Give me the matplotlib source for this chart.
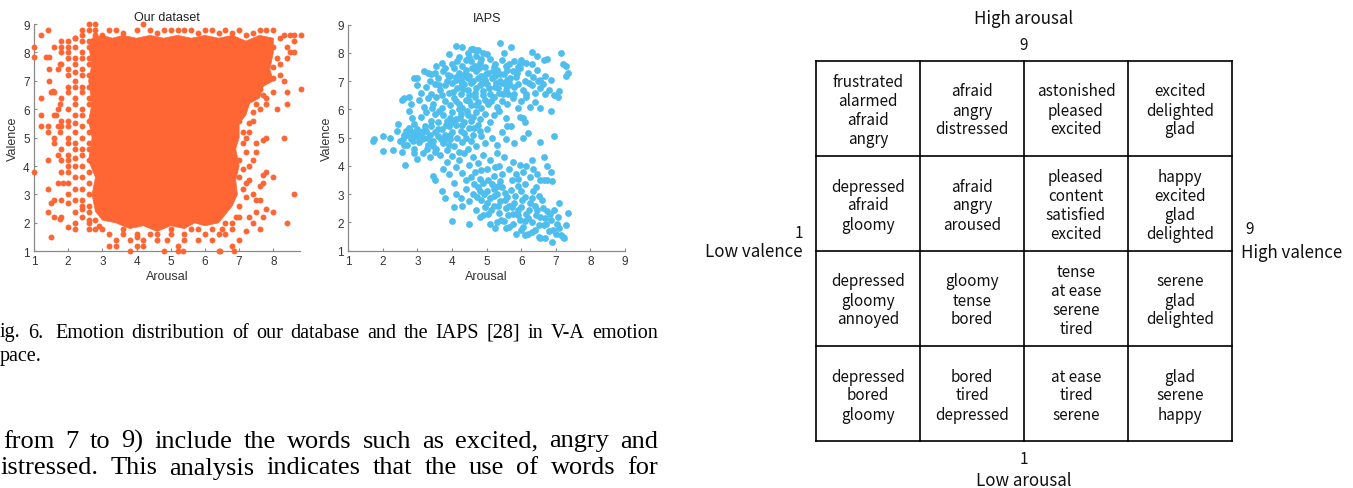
import numpy as np
import matplotlib
matplotlib.use("Agg")
import matplotlib.pyplot as plt
from matplotlib.patches import Polygon

# ---------------- data ----------------
# "Our dataset": solid dense core outline (arousal, valence)
core_arousal = [2.7, 3.0, 3.3, 3.6, 4.0, 4.4, 4.8, 5.2, 5.6, 6.0, 6.4, 6.8, 7.2, 7.6, 8.0,
                8.0, 7.9, 8.0, 7.7, 7.6, 7.3, 7.2, 7.0, 7.0, 6.9, 7.0, 6.9, 6.95, 6.8, 6.6, 6.4,
                6.0, 5.7, 5.4, 5.0, 4.6, 4.2, 3.8, 3.4, 3.0, 2.8,
                2.7, 2.8, 2.6, 2.7, 2.6, 2.7, 2.6, 2.7, 2.6]
core_valence = [8.5, 8.6, 8.5, 8.6, 8.5, 8.6, 8.5, 8.6, 8.5, 8.6, 8.5, 8.6, 8.4, 8.6, 8.5,
                8.0, 7.4, 7.0, 6.8, 6.4, 6.2, 5.8, 5.5, 5.0, 4.6, 4.0, 3.5, 3.0, 2.6, 2.3, 2.0,
                1.9, 2.0, 1.8, 1.9, 1.7, 1.9, 1.8, 2.0, 2.1, 2.4,
                3.0, 3.6, 4.2, 5.0, 5.6, 6.2, 7.0, 7.6, 8.2]
# "Our dataset": scattered points around the core
ours_points = [
    (1.0, 8.2), (1.0, 7.85), (1.0, 3.8), (1.2, 8.6), (1.4, 8.8), (1.2, 6.4), (1.2, 5.8), (1.2, 5.4),
    (1.4, 5.4), (1.4, 5.2), (1.4, 4.2), (1.4, 3.2), (1.4, 2.4), (1.5, 1.5), (1.6, 2.2), (1.5, 2.7),
    (1.6, 2.8), (1.7, 3.4), (1.8, 2.2), (1.75, 2.15), (1.8, 2.8), (1.35, 7.85), (1.45, 7.85),
    (1.45, 7.4), (1.45, 7.0), (1.5, 6.6), (1.6, 6.6), (1.55, 6.65), (1.6, 5.8), (1.65, 5.8),
    (1.6, 5.0), (1.6, 4.8), (1.7, 4.4), (1.7, 5.4), (1.75, 5.2), (1.7, 6.0), (1.75, 7.6), (1.7, 7.4),
    (1.8, 8.0), (1.8, 8.4), (1.8, 8.2), (1.6, 8.2), (1.75, 6.2), (1.8, 5.6), (1.8, 4.6), (1.8, 4.2),
    (1.8, 3.8), (1.85, 3.4), (1.8, 7.6), (1.8, 6.4), (1.8, 5.4),
    (2.0, 8.4), (2.0, 8.2), (2.0, 8.0), (2.0, 7.8), (2.0, 7.4), (2.0, 7.2), (2.0, 6.6), (2.0, 6.0),
    (2.0, 5.6), (2.0, 5.4), (2.0, 4.4), (2.0, 4.2), (2.0, 4.0), (2.0, 3.8), (2.0, 3.4), (2.0, 3.0),
    (2.0, 2.7), (2.0, 1.85), (2.0, 5.0), (2.0, 6.8), (2.0, 4.8),
    (2.2, 8.5), (2.2, 8.2), (2.2, 7.8), (2.2, 7.6), (2.2, 7.0), (2.2, 6.8), (2.2, 6.4), (2.2, 6.2),
    (2.2, 5.8), (2.2, 5.2), (2.2, 4.8), (2.2, 4.6), (2.2, 4.0), (2.2, 3.6), (2.2, 3.2), (2.2, 2.8),
    (2.2, 2.4), (2.2, 2.0), (2.2, 1.8), (2.2, 5.5), (2.2, 4.3), (2.2, 7.3),
    (2.4, 8.6), (2.4, 8.4), (2.4, 8.0), (2.4, 7.8), (2.4, 7.4), (2.4, 7.2), (2.4, 6.8), (2.4, 6.6),
    (2.4, 6.0), (2.4, 5.8), (2.4, 5.4), (2.4, 5.0), (2.4, 4.6), (2.4, 4.4), (2.4, 4.0), (2.4, 3.6),
    (2.4, 3.2), (2.4, 2.8), (2.4, 2.6),
    (2.6, 8.8), (2.6, 8.4), (2.6, 8.2), (2.6, 7.8), (2.6, 7.6), (2.6, 7.2), (2.6, 6.8), (2.6, 6.4),
    (2.6, 6.2), (2.6, 5.6), (2.6, 5.2), (2.6, 4.8), (2.6, 4.6), (2.6, 4.2), (2.6, 3.8), (2.6, 3.4),
    (2.6, 3.0), (2.6, 2.6), (2.6, 2.4), (2.6, 2.0),
    (2.4, 2.2), (2.4, 2.5), (2.6, 1.8), (2.6, 2.1), (2.8, 1.8), (2.9, 1.9), (2.8, 2.1), (3.2, 1.2),
    (3.4, 1.2), (3.4, 1.4), (3.6, 1.6), (3.8, 1.0), (3.8, 1.4), (4.0, 1.2), (4.0, 1.5), (4.2, 1.2),
    (4.2, 1.4), (4.4, 1.6), (4.6, 1.4), (4.8, 1.0), (4.9, 1.4), (5.0, 1.6), (5.2, 1.2), (5.2, 1.0),
    (5.35, 1.0), (5.4, 1.4), (5.6, 1.8), (5.8, 1.4), (6.0, 1.6), (6.2, 1.4), (6.4, 1.0), (6.45, 1.0),
    (6.5, 1.8), (6.8, 1.2), (6.85, 1.0), (7.0, 1.4), (7.2, 1.7), (7.4, 2.0), (7.5, 2.4), (7.6, 1.8),
    (7.7, 2.2), (7.8, 2.5), (8.0, 2.4), (7.3, 2.2), (7.6, 2.8), (7.6, 3.3), (7.7, 3.4), (7.7, 3.7),
    (7.8, 3.8), (8.0, 3.6), (7.4, 3.0), (7.5, 2.8), (7.2, 2.9), (7.3, 3.5), (7.3, 4.0), (7.2, 4.5),
    (7.4, 4.2), (7.5, 4.5), (7.5, 4.8), (7.7, 4.9), (7.8, 5.0), (8.3, 5.0), (8.6, 3.0), (8.4, 2.0),
    (7.1, 5.2), (7.3, 5.5), (7.3, 5.2), (7.4, 5.9), (7.6, 6.0), (7.5, 6.2), (7.7, 6.5), (7.8, 6.4),
    (8.0, 6.6), (7.2, 6.2), (7.2, 6.5), (8.1, 6.0), (8.4, 6.2), (8.4, 6.6), (8.3, 7.0), (8.2, 7.2),
    (8.0, 7.1), (8.0, 7.5), (8.2, 7.6), (8.4, 7.8), (8.5, 8.0), (8.6, 8.0), (8.6, 8.4), (8.4, 8.2),
    (8.2, 8.5), (8.3, 8.6), (8.5, 8.6), (8.6, 8.6), (8.8, 8.6), (8.8, 6.7), (8.0, 8.8), (7.8, 8.8),
    (7.6, 8.8), (7.0, 8.8), (6.6, 8.8), (6.2, 8.8), (6.0, 8.8), (5.6, 8.8), (5.4, 8.8), (5.2, 8.8),
    (5.0, 8.8), (4.8, 8.8), (4.4, 8.8), (4.0, 8.8), (4.2, 9.0), (2.6, 9.0), (2.8, 9.0), (2.4, 8.8),
    (2.8, 8.8), (3.2, 8.8), (3.0, 8.6), (2.2, 8.5), (7.0, 4.2), (7.0, 3.6), (7.1, 3.2), (7.0, 2.6),
    (6.9, 2.2), (6.6, 2.0), (6.8, 1.8), (6.4, 1.6), (7.3, 6.8), (7.6, 6.7), (7.0, 5.6), (7.1, 6.0),
    (3.4, 8.8), (3.6, 8.7), (4.6, 8.7), (5.8, 8.7), (6.4, 8.7), (6.8, 8.7), (7.2, 8.6), (7.4, 8.7),
    (7.8, 6.2), (7.4, 5.6), (7.2, 5.0), (7.1, 4.8), (7.1, 3.9), (7.2, 3.4), (7.0, 2.2), (6.8, 2.0),
    (3.0, 1.8), (3.2, 1.6), (3.6, 1.8), (4.0, 1.6), (4.6, 1.6), (5.0, 1.8), (5.4, 1.6), (5.8, 1.8),
    (6.2, 1.8), (6.6, 1.6), (2.8, 8.6), (8.0, 8.2), (8.1, 7.8),
]
ours_arousal = [p[0] for p in ours_points]
ours_valence = [p[1] for p in ours_points]

# IAPS points (arousal, valence)
iaps_points = [
    (4.1, 8.25), (4.3, 8.2), (4.45, 8.0), (4.55, 8.15), (4.65, 8.1), (4.75, 8.12), (4.9, 8.0), (5.0, 7.95),
    (5.4, 8.35), (5.5, 8.0), (5.7, 8.2), (3.9, 7.95), (4.2, 7.85), (6.3, 8.05), (4.6, 8.15), (4.7, 7.9),
    (3.55, 7.55), (3.7, 7.65), (3.8, 7.45), (4.0, 7.6), (4.15, 7.7), (4.3, 7.55), (4.4, 7.75), (4.55, 7.7),
    (4.65, 7.55), (4.8, 7.65), (4.95, 7.5), (5.1, 7.8), (5.25, 7.6), (5.45, 7.75), (5.55, 7.55), (5.65, 7.6),
    (5.8, 7.7), (5.9, 7.5), (6.0, 7.75), (6.15, 7.65), (6.3, 7.6), (6.45, 7.9), (6.65, 7.75), (6.75, 7.8),
    (5.95, 7.6), (3.3, 7.3), (3.4, 7.25), (4.5, 7.85), (4.85, 7.8), (5.2, 7.5),
    (2.9, 7.1), (3.0, 7.1), (3.2, 7.35), (3.35, 7.0), (3.5, 7.3), (3.6, 7.1), (3.75, 7.35), (3.85, 7.0),
    (3.95, 7.2), (4.05, 7.45), (4.1, 7.05), (4.2, 7.3), (4.3, 7.1), (4.4, 7.4), (4.5, 7.2), (4.6, 7.0),
    (4.7, 7.35), (4.85, 7.2), (4.95, 7.05), (5.05, 7.3), (5.15, 7.1), (5.3, 7.4), (5.4, 7.0), (5.5, 7.25),
    (5.6, 7.05), (5.75, 7.35), (5.85, 7.15), (5.95, 7.45), (6.1, 7.0), (6.2, 7.3), (6.35, 7.15), (6.45, 7.4),
    (6.55, 7.05), (6.7, 7.2), (6.85, 7.05), (4.25, 7.0), (4.45, 7.1), (4.75, 7.1), (5.25, 7.2), (5.65, 6.95),
    (3.0, 6.85), (3.1, 6.6), (3.25, 6.8), (3.4, 6.55), (3.5, 6.9), (3.65, 6.7), (3.8, 6.85), (3.9, 6.6),
    (4.0, 6.95), (4.15, 6.75), (4.25, 6.55), (4.35, 6.9), (4.45, 6.7), (4.55, 6.95), (4.65, 6.6), (4.8, 6.85),
    (4.9, 6.65), (5.0, 6.9), (5.1, 6.55), (5.25, 6.8), (5.35, 6.6), (5.45, 6.95), (5.55, 6.7), (5.65, 6.85),
    (5.8, 6.55), (5.9, 6.9), (6.05, 6.7), (6.15, 6.55), (6.3, 6.85), (6.4, 6.6), (6.55, 6.75), (6.7, 6.55),
    (6.8, 6.7), (6.95, 6.5), (7.05, 6.45), (7.1, 6.65), (2.75, 6.45), (2.6, 6.4), (2.55, 6.35), (5.55, 6.85),
    (2.8, 6.2), (3.05, 6.35), (3.2, 6.1), (3.3, 6.4), (3.45, 6.2), (3.55, 6.45), (3.7, 6.05), (3.8, 6.3),
    (3.95, 6.15), (4.05, 6.4), (4.2, 6.2), (4.3, 6.05), (4.4, 6.35), (4.55, 6.15), (4.65, 6.45), (4.75, 6.25),
    (4.85, 6.05), (4.95, 6.35), (5.05, 6.2), (5.2, 6.45), (5.3, 6.1), (5.45, 6.3), (5.6, 6.2), (5.75, 6.4),
    (5.9, 6.05), (6.0, 6.3), (6.15, 6.45), (6.25, 6.1), (6.4, 6.25), (6.55, 6.05), (6.85, 5.95), (2.75, 5.95),
    (3.1, 5.75), (3.25, 5.9), (3.4, 5.6), (3.5, 5.85), (3.6, 5.55), (3.75, 5.8), (3.85, 5.6), (4.0, 5.9),
    (4.1, 5.65), (4.25, 5.85), (4.35, 5.55), (4.45, 5.8), (4.55, 5.6), (4.7, 5.9), (4.8, 5.65), (4.95, 5.85),
    (5.1, 5.55), (5.2, 5.8), (5.35, 5.95), (5.55, 5.7), (5.6, 5.4), (5.95, 5.75), (6.05, 5.7), (6.1, 5.55),
    (2.85, 5.7), (2.9, 5.5), (3.95, 5.7), (4.2, 6.0), (4.6, 5.75),
    (4.12, 7.15), (4.28, 6.85), (4.38, 7.25), (4.48, 6.5), (4.58, 7.45), (4.68, 6.75), (4.78, 7.45),
    (4.88, 6.95), (4.98, 7.25), (5.08, 6.75), (5.18, 7.35), (5.28, 6.95), (5.38, 7.25), (5.48, 6.55),
    (5.58, 7.4), (5.68, 7.1), (5.78, 6.8), (5.88, 7.3), (3.62, 6.88), (3.72, 6.5), (3.88, 7.22),
    (4.02, 6.62), (4.12, 6.3), (4.32, 6.72), (4.5, 6.3), (4.7, 6.15), (4.9, 6.5), (5.12, 6.3),
    (5.32, 6.75), (5.62, 6.55), (6.22, 6.95), (6.48, 7.0), (6.62, 6.9), (3.42, 6.05), (3.62, 5.95),
    (3.82, 5.45), (4.02, 5.55), (4.22, 5.7), (4.42, 5.95), (4.62, 5.35), (4.82, 5.25), (4.3, 5.45),
    (1.72, 4.89), (1.75, 4.95), (2.0, 5.05), (2.0, 4.52), (2.2, 5.0), (2.3, 4.55), (2.4, 5.25), (2.45, 5.5),
    (2.5, 4.9), (2.55, 4.5), (2.6, 5.1), (2.65, 4.05), (2.7, 4.75), (2.75, 5.35), (2.8, 4.95), (2.85, 5.2),
    (2.9, 4.6), (2.95, 5.05), (3.0, 5.3), (3.05, 4.85), (3.1, 5.15), (3.15, 4.45), (3.2, 5.0), (3.25, 5.25),
    (3.3, 4.75), (3.35, 5.1), (3.4, 5.4), (3.45, 4.9), (3.5, 5.2), (3.55, 4.6), (3.6, 5.05), (3.65, 4.4),
    (3.7, 5.3), (3.75, 4.8), (3.8, 5.1), (3.85, 4.55), (3.9, 5.4), (3.95, 4.95), (4.0, 5.2), (4.05, 4.7),
    (4.1, 5.45), (4.15, 5.0), (4.2, 4.5), (4.25, 5.25), (4.3, 4.85), (4.35, 5.15), (4.45, 4.6), (4.5, 5.35),
    (4.55, 4.9), (4.6, 5.1), (4.7, 4.7), (4.75, 5.45), (4.85, 5.05), (4.95, 4.8), (5.0, 5.3), (5.15, 5.0),
    (5.3, 4.75), (5.45, 5.2), (5.55, 4.95), (5.7, 5.4), (5.8, 4.8), (6.05, 5.0), (6.2, 5.15), (3.0, 4.25),
    (2.9, 4.45), (3.35, 4.3), (3.5, 4.5), (2.95, 5.15), (3.05, 5.0), (3.15, 5.25), (2.85, 5.05), (3.3, 5.0),
    (3.45, 4.7), (3.9, 4.75), (4.4, 5.0), (2.6, 4.75), (2.7, 5.1),
    (2.88, 4.9), (3.02, 5.18), (3.12, 4.95), (3.22, 5.4), (3.38, 4.85), (3.58, 5.3), (3.68, 4.95),
    (3.82, 4.95), (3.95, 5.1), (2.68, 5.25), (2.58, 4.95), (3.28, 4.6),
    (3.45, 3.65), (3.5, 3.5), (3.7, 3.1), (3.8, 2.85), (3.75, 3.9), (3.85, 4.15), (3.9, 3.7), (4.0, 4.35),
    (4.05, 3.4), (4.1, 3.95), (4.2, 4.2), (4.3, 3.75), (4.35, 4.45), (4.4, 3.5), (4.5, 4.05), (4.6, 4.3),
    (4.65, 3.8), (4.75, 4.1), (4.8, 3.55), (4.9, 4.4), (5.0, 3.9), (5.1, 4.2), (5.2, 3.65), (5.3, 4.45),
    (5.35, 4.0), (5.45, 3.7), (5.5, 4.3), (5.65, 3.9), (5.75, 4.15), (5.85, 3.7), (5.95, 4.05), (6.05, 3.8),
    (6.15, 4.0), (6.25, 3.6), (6.35, 3.9), (6.45, 3.7), (6.55, 3.5), (6.65, 3.5), (6.75, 3.5), (6.9, 3.45),
    (6.85, 3.8), (6.75, 4.0), (6.65, 4.3), (6.55, 4.85), (6.3, 4.2), (4.1, 3.0), (4.25, 2.85), (4.3, 2.6),
    (4.4, 3.2), (6.95, 5.05), (4.55, 3.6), (4.85, 3.85), (5.05, 3.5), (5.25, 3.95),
    (4.0, 2.05), (4.05, 2.55), (4.5, 1.95), (4.5, 2.75), (4.6, 3.0), (4.7, 2.45), (4.75, 3.25), (4.8, 2.2),
    (4.85, 2.8), (4.9, 3.4), (4.95, 2.55), (5.0, 3.1), (5.05, 2.3), (5.1, 2.85), (5.15, 3.35), (5.2, 2.6),
    (5.25, 1.8), (5.3, 3.0), (5.35, 2.35), (5.4, 2.75), (5.45, 3.25), (5.5, 2.05), (5.55, 2.5), (5.6, 2.9),
    (5.65, 1.85), (5.7, 3.15), (5.75, 2.3), (5.8, 2.7), (5.85, 1.6), (5.9, 3.3), (5.95, 2.1), (6.0, 2.55),
    (6.05, 1.85), (6.1, 2.9), (6.15, 2.3), (6.2, 1.6), (6.25, 2.7), (6.3, 2.0), (6.35, 3.1), (6.4, 1.75),
    (6.45, 2.45), (6.5, 1.5), (6.55, 2.2), (6.6, 2.8), (6.65, 1.9), (6.7, 1.45), (6.75, 2.4), (6.8, 1.7),
    (6.85, 2.1), (6.9, 1.3), (6.95, 2.45), (7.0, 1.6), (7.05, 2.2), (7.1, 1.8), (7.1, 2.7), (7.15, 1.55),
    (7.2, 1.5), (7.25, 1.45), (7.3, 1.9), (7.35, 2.35), (6.1, 1.55), (6.55, 1.45), (5.55, 1.8), (6.0, 3.1),
    (5.3, 2.0), (4.9, 2.25), (5.1, 1.95), (5.2, 2.95), (5.4, 3.45), (5.65, 2.6), (5.9, 2.45), (6.2, 2.15),
    (6.4, 2.6), (6.5, 2.95), (6.7, 2.15), (5.75, 1.95), (6.0, 1.75), (6.3, 1.65), (7.2, 7.6), (7.15, 8.0),
    (7.3, 7.55), (7.35, 7.3), (7.3, 7.2),
    (5.02, 2.7), (5.12, 2.45), (5.22, 3.2), (5.32, 2.6), (5.42, 2.1), (5.52, 2.8), (5.62, 2.25),
    (5.72, 2.55), (5.82, 2.95), (5.92, 2.25), (6.02, 2.8), (6.12, 2.05), (6.22, 2.45), (6.32, 2.85),
    (6.42, 2.25), (6.52, 1.9), (6.62, 2.5), (6.72, 1.95), (6.82, 2.3), (6.92, 1.75), (7.02, 1.95),
    (4.62, 3.35), (4.72, 2.9), (4.82, 3.1), (4.92, 3.0), (5.32, 3.3), (5.52, 3.05), (5.72, 3.5),
    (5.92, 3.55), (6.12, 3.35), (6.42, 3.25),
]
iaps_arousal = [p[0] for p in iaps_points]
iaps_valence = [p[1] for p in iaps_points]

# Emotion word table (rows: high arousal -> low arousal; cols: low valence -> high valence)
table_words = [
    ["frustrated\nalarmed\nafraid\nangry", "afraid\nangry\ndistressed", "astonished\npleased\nexcited", "excited\ndelighted\nglad"],
    ["depressed\nafraid\ngloomy", "afraid\nangry\naroused", "pleased\ncontent\nsatisfied\nexcited", "happy\nexcited\nglad\ndelighted"],
    ["depressed\ngloomy\nannoyed", "gloomy\ntense\nbored", "tense\nat ease\nserene\ntired", "serene\nglad\ndelighted"],
    ["depressed\nbored\ngloomy", "bored\ntired\ndepressed", "at ease\ntired\nserene", "glad\nserene\nhappy"],
]

caption_lines = ["ig. 6.  Emotion distribution of our database and the IAPS [28] in V-A emotion", "pace."]
body_lines = ["from 7 to 9) include the words such as excited, angry and",
              "istressed. This analysis indicates that the use of words for"]

ticks = [1, 2, 3, 4, 5, 6, 7, 8, 9]

# ---------------- figure ----------------
W, H = 1353, 489
fig = plt.figure(figsize=(W / 100, H / 100), dpi=100)
ORANGE = "#FF6633"
BLUE = "#4DBEEE"
AX_GRAY = "#8a8a8a"
TXT_GRAY = "#333333"


def px_axes(x0, y_top, x1, y_bot):
    return fig.add_axes([x0 / W, 1 - y_bot / H, (x1 - x0) / W, (y_bot - y_top) / H])


def style(ax, title, xmax):
    ax.set_xlim(1, xmax)
    ax.set_ylim(1, 9)
    ax.set_xticks([t for t in ticks if t <= xmax])
    ax.set_yticks(ticks)
    for s in ("top", "right"):
        ax.spines[s].set_visible(False)
    for s in ("left", "bottom"):
        ax.spines[s].set_color(AX_GRAY)
        ax.spines[s].set_linewidth(0.9)
    ax.tick_params(direction="in", length=2.5, width=0.8, color=AX_GRAY, labelsize=8.5,
                   labelcolor=TXT_GRAY, pad=3)
    for lab in ax.get_xticklabels() + ax.get_yticklabels():
        lab.set_family("Liberation Sans")
    ax.set_title(title, fontsize=9, family="Liberation Sans", color="#222222", pad=3)
    ax.set_xlabel("Arousal", fontsize=9, family="Liberation Sans", color=TXT_GRAY, labelpad=2)
    ax.set_ylabel("Valence", fontsize=9, family="Liberation Sans", color=TXT_GRAY, labelpad=3)


ax1 = px_axes(33.9, 25.0, 300.0, 252.3)
style(ax1, "Our dataset", 8.78)
ax1.add_patch(Polygon(np.column_stack([core_arousal, core_valence]), closed=True,
                      facecolor=ORANGE, edgecolor=ORANGE, linewidth=0.5, zorder=2))
ax1.scatter(ours_arousal, ours_valence, s=18, color=ORANGE, linewidths=0, zorder=3, clip_on=False)

ax2 = px_axes(348.3, 25.7, 625.0, 251.7)
style(ax2, "IAPS", 9)
ax2.scatter(iaps_arousal, iaps_valence, s=24, color=BLUE, linewidths=0, zorder=3)

# ---------------- overlay (pixel coordinates) ----------------
ov = fig.add_axes([0, 0, 1, 1], zorder=-1)
ov.set_xlim(0, W)
ov.set_ylim(H, 0)
ov.axis("off")

renderer = fig.canvas.get_renderer()


def justify(line, x0, x1, y, size, family, first_gap_extra=0.0):
    words = [w for w in line.split(" ") if w != ""]
    objs = [ov.text(0, y, w, fontsize=size, family=family, va="baseline", ha="left", color="black")
            for w in words]
    widths = [o.get_window_extent(renderer).width for o in objs]
    gap = (x1 - x0 - sum(widths) - first_gap_extra) / (len(words) - 1) if len(words) > 1 else 0
    x = x0
    for k, (o, w) in enumerate(zip(objs, widths)):
        o.set_x(x)
        x += w + gap
        if k == 1:
            x += first_gap_extra


SERIF = "Liberation Serif"
justify(caption_lines[0], 0, 658, 337.5, 14.5, SERIF, first_gap_extra=4)
ov.text(0, 361.5, caption_lines[1], fontsize=14.5, family=SERIF, va="baseline", ha="left")
justify(body_lines[0], 3, 658, 447.5, 19, SERIF)
justify(body_lines[1], 0, 658, 474.5, 19, SERIF)

# table
gx0, gy0, cw, ch = 816, 62, 104, 95
nrows, ncols = len(table_words), len(table_words[0])
for i in range(nrows + 1):
    ov.plot([gx0, gx0 + ncols * cw], [gy0 + i * ch] * 2, color="black", lw=1.2, solid_capstyle="projecting")
for j in range(ncols + 1):
    ov.plot([gx0 + j * cw] * 2, [gy0, gy0 + nrows * ch], color="black", lw=1.2, solid_capstyle="projecting")

TF = "Noto Sans CJK KR"
TS = 11
LS = 19
OS = 12.2
TC = "#111111"
for i, row in enumerate(table_words):
    for j, cell in enumerate(row):
        lines = cell.split("\n")
        cx = gx0 + (j + 0.5) * cw
        cy = gy0 + (i + 0.5) * ch + 1.5
        for k, w in enumerate(lines):
            yy = cy + (k - (len(lines) - 1) / 2) * LS
            ov.text(cx, yy, w, fontsize=TS, family=TF, ha="center", va="center", color=TC)

ov.text(1024, 19, "High arousal", fontsize=OS, family=TF, ha="center", va="center", color=TC)
ov.text(1024, 45, "9", fontsize=TS, family=TF, ha="center", va="center", color=TC)
ov.text(1024, 460, "1", fontsize=TS, family=TF, ha="center", va="center", color=TC)
ov.text(1024, 481, "Low arousal", fontsize=OS, family=TF, ha="center", va="center", color=TC)
ov.text(803, 233, "1", fontsize=TS, family=TF, ha="right", va="center", color=TC)
ov.text(803, 252, "Low valence", fontsize=OS, family=TF, ha="right", va="center", color=TC)
ov.text(1245, 230, "9", fontsize=TS, family=TF, ha="left", va="center", color=TC)
ov.text(1241, 253, "High valence", fontsize=OS, family=TF, ha="left", va="center", color=TC)

fig.savefig("out.png", dpi=100)
